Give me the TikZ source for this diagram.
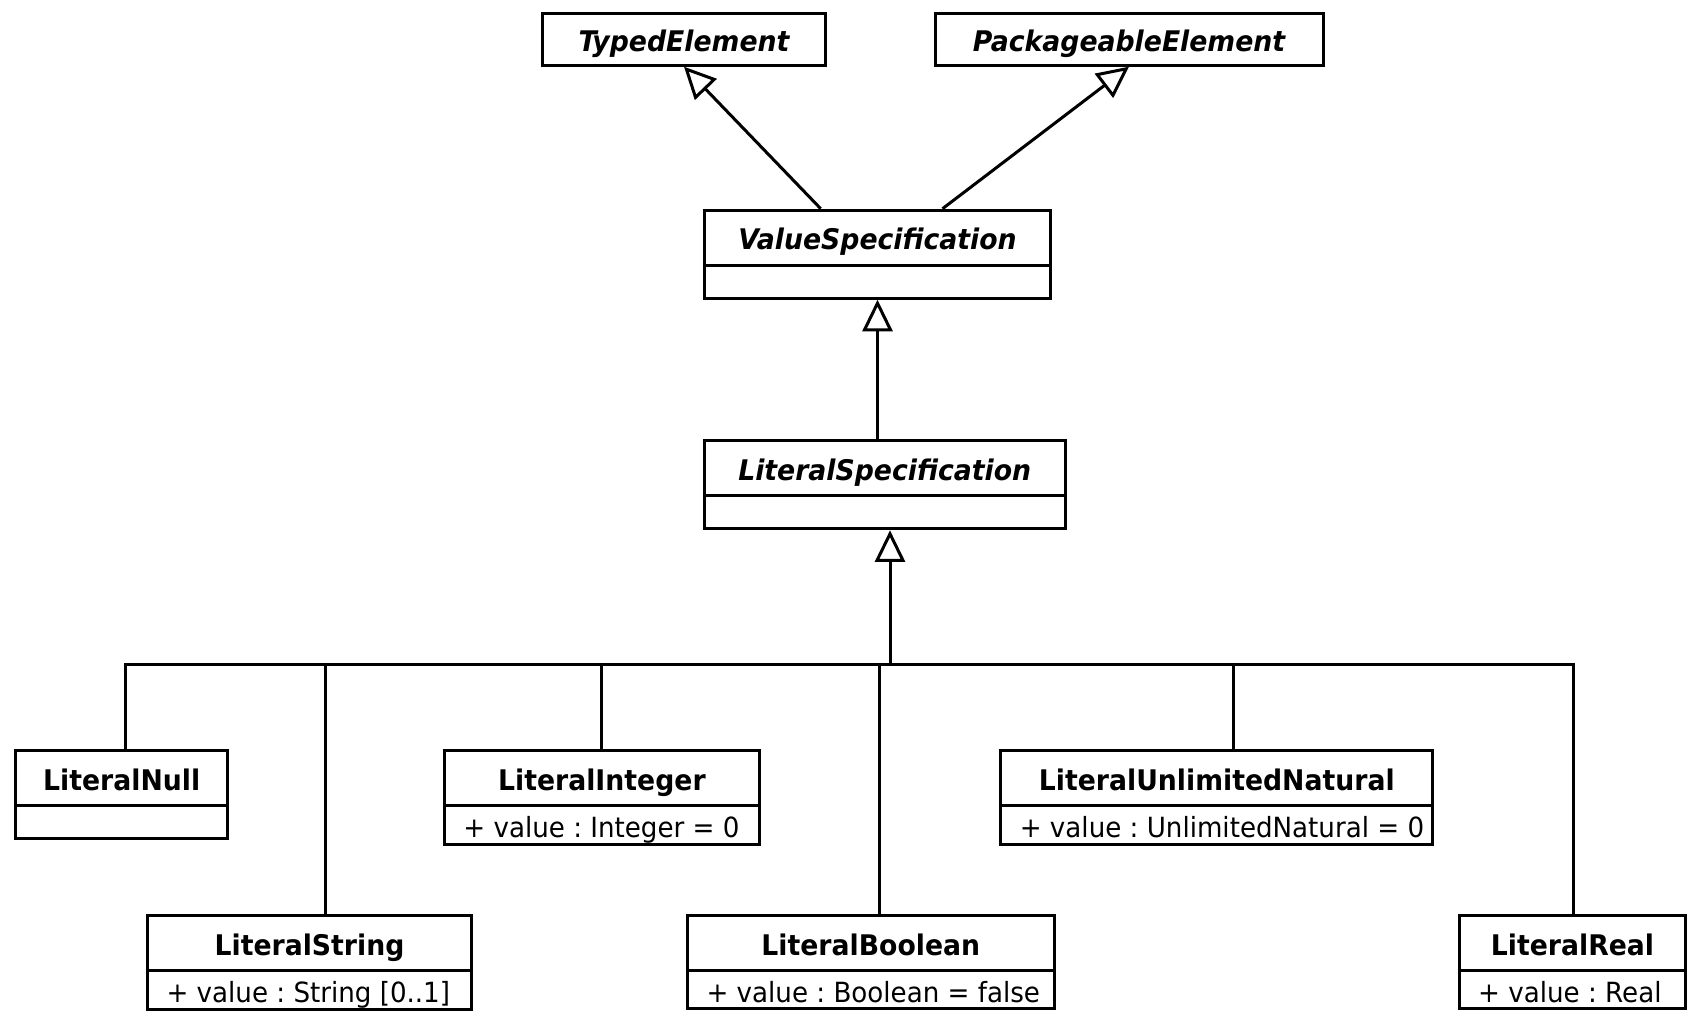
\documentclass[tikz,border=0pt]{standalone}
\usepackage{fontspec}
\setmainfont{DejaVu Sans}[FakeStretch=0.94]
\usetikzlibrary{arrows.meta, shapes.multipart}
\frenchspacing

\newcommand{\cname}[1]{\rule[-7pt]{0pt}{26pt}#1}
\newcommand{\cattr}[1]{\rlap{\mdseries\fontsize{13.9}{16}\selectfont\rule[-2.6pt]{0pt}{17.7pt}#1}}
\newcommand{\cnone}{\rule{0pt}{15pt}}

\begin{document}
\begin{tikzpicture}[x=0.5pt, y=-0.5pt, line width=1.5pt]
	\tikzset{>={Triangle[open, length=15.8pt, width=15pt]},
		cls/.style={draw, anchor=north west, rectangle split, rectangle split parts=2,
			rectangle split part align={center,left}, inner xsep=9.5pt, inner ysep=0pt,
			font=\fontsize{14.2}{17}\selectfont\bfseries},
		abscls/.style={cls, font=\fontsize{14.2}{17}\selectfont\bfseries\itshape},
		absname/.style={draw, anchor=north west, inner xsep=9.5pt, inner ysep=0pt,
			font=\fontsize{14.2}{17}\selectfont\bfseries\itshape},
		tree/.style={-, to path={|- (\tikztotarget)}}}
	\useasboundingbox (0,0) rectangle (1702,1022);

	\node[absname, minimum width=141.8pt] (TE) at (540.7,11.7) {\cname{TypedElement}};
	\node[absname, minimum width=194pt] (PE) at (933.5,11.7) {\cname{PackageableElement}};
	\node[abscls, minimum width=173.3pt] (VS) at (702.7,208.7) {\cname{ValueSpecification}\nodepart{two}\cnone};
	\node[abscls, minimum width=180.5pt] (LS) at (702.7,439.3) {\cname{LiteralSpecification}\nodepart{two}\cnone};

	\node[cls, minimum width=106.2pt] (LNull) at (14,749.3) {\cname{LiteralNull}\nodepart{two}\cnone};
	\node[cls, minimum width=157.5pt] (LInt) at (442.9,749.3) {\cname{LiteralInteger}\nodepart{two}\cattr{+ value : Integer = 0}};
	\node[cls, minimum width=216pt] (LUN) at (999.3,749.3) {\cname{LiteralUnlimitedNatural}\nodepart{two}\cattr{+ value : UnlimitedNatural = 0}};
	\node[cls, minimum width=162pt] (LStr) at (146,914) {\cname{LiteralString}\nodepart{two}\cattr{+ value : String [0..1]}};
	\node[cls, minimum width=183.3pt] (LBool) at (686,914) {\cname{LiteralBoolean}\nodepart{two}\cattr{+ value : Boolean = false}};
	\node[cls, minimum width=113.3pt] (LReal) at (1457.7,914) {\cname{LiteralReal}\nodepart{two}\cattr{+ value : Real}};

	\coordinate (bus) at (890,664.3);

	\draw
	([xshift=-28.4pt]VS.north) edge[->] (TE.south)
	([xshift=32.5pt]VS.north) edge[->] (PE.south)
	(VS.south |- LS.north) edge[->] (VS.south)
	(bus) edge[->] (bus |- LS.south);

	\draw
	([xshift=1.7pt]LNull.north) edge[tree] (bus)
	([xshift=7.75pt]LStr.north) edge[tree] (bus)
	(LInt.north) edge[tree] (bus)
	([xshift=4.1pt]LBool.north) edge[tree] (bus)
	([xshift=8.45pt]LUN.north) edge[tree] (bus)
	([xshift=0.4pt]LReal.north) edge[tree] (bus);
\end{tikzpicture}
\end{document}
